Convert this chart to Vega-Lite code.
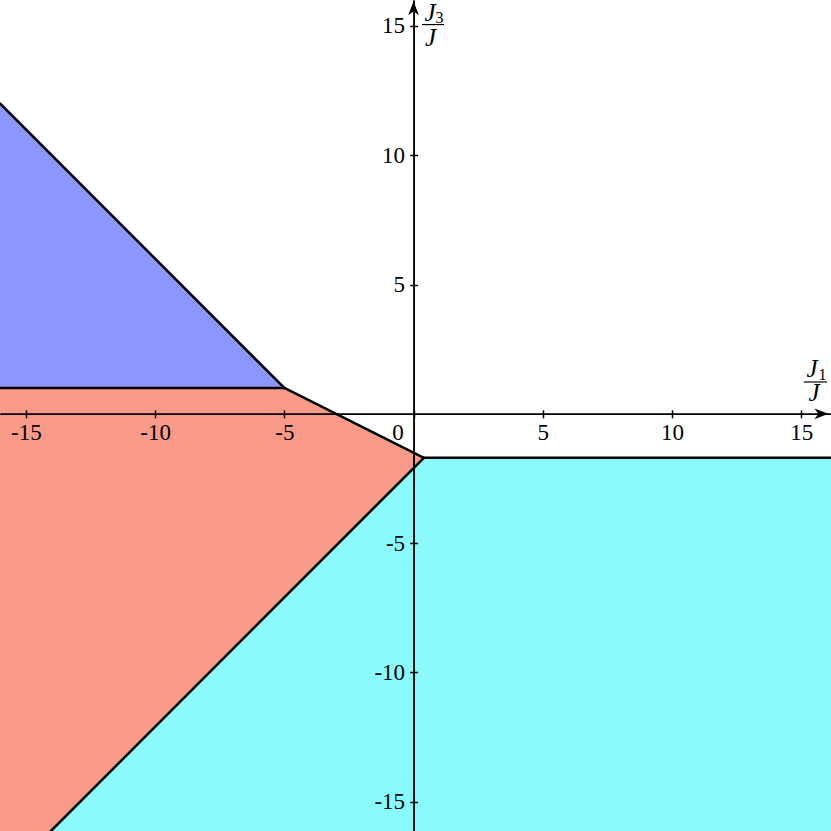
{
  "$schema": "https://vega.github.io/schema/vega-lite/v6.json",
  "width": 831,
  "height": 831,
  "padding": 0,
  "autosize": {"type": "none"},
  "background": "white",
  "config": {"view": {"stroke": null}},
  "datasets": {
    "regions": [
      {"region": "A", "x": -16, "top": 12, "bottom": 1},
      {"region": "A", "x": -5, "top": 1, "bottom": 1},
      {"region": "B", "x": -16, "top": 1, "bottom": -16.13},
      {"region": "B", "x": -14.03, "top": 1, "bottom": -16.13},
      {"region": "B", "x": -5, "top": 1, "bottom": -7.1},
      {"region": "B", "x": 0.4, "top": -1.7, "bottom": -1.7},
      {"region": "C", "x": -14.03, "top": -16.13, "bottom": -16.13},
      {"region": "C", "x": 0.4, "top": -1.7, "bottom": -16.13},
      {"region": "C", "x": 16.15, "top": -1.7, "bottom": -16.13}
    ],
    "edges": [
      {"x": -16, "y": 12, "x2": -5, "y2": 1},
      {"x": -16, "y": 1, "x2": -5, "y2": 1},
      {"x": -5, "y": 1, "x2": 0.4, "y2": -1.7},
      {"x": 0.4, "y": -1.7, "x2": 16.15, "y2": -1.7},
      {"x": 0.4, "y": -1.7, "x2": -14.03, "y2": -16.13}
    ],
    "fracs": [
      {"x": 0.326, "x2": 1.177, "y": 15.05},
      {"x": 15.105, "x2": 15.995, "y": 1.231}
    ],
    "titles": [
      {"role": "main", "x": 0.636, "y": 15.18, "t": "J"},
      {"role": "sub", "x": 1.003, "y": 15.11, "t": "3"},
      {"role": "main", "x": 0.655, "y": 14.24, "t": "J"},
      {"role": "main", "x": 15.414, "y": 1.424, "t": "J"},
      {"role": "sub", "x": 15.82, "y": 1.308, "t": "1"},
      {"role": "main", "x": 15.49, "y": 0.496, "t": "J"}
    ],
    "arrows": [
      {"dir": "up", "x": 0, "y": 15.95},
      {"dir": "right", "x": 16.05, "y": 0}
    ]
  },
  "layer": [
    {
      "data": {"name": "regions"},
      "mark": {"type": "area", "opacity": 1},
      "encoding": {
        "x": {
          "field": "x", "type": "quantitative",
          "scale": {"domain": [-16, 16.15], "nice": false, "zero": false},
          "axis": {
            "orient": "bottom", "offset": -417.2, "title": null, "grid": false,
            "values": [-15, -10, -5, 0, 5, 10, 15],
            "labelExpr": "datum.value + ''",
            "labelOffset": {"condition": {"test": "datum.value === 0", "value": -16}, "value": 0},
            "labelFont": "Liberation Serif", "labelFontSize": 23, "labelColor": "black",
            "labelPadding": 4, "labelOverlap": false, "labelFlush": false, "labelBound": false,
            "tickSize": 4, "tickWidth": 1.5, "tickColor": "black",
            "domainColor": "black", "domainWidth": 1.5, "zindex": 1
          }
        },
        "y": {
          "field": "top", "type": "quantitative", "stack": null,
          "scale": {"domain": [-16.13, 16], "nice": false, "zero": false},
          "axis": {
            "orient": "left", "offset": -413.6, "title": null, "grid": false,
            "values": [-15, -10, -5, 5, 10, 15],
            "labelExpr": "datum.value + ''",
            "labelFont": "Liberation Serif", "labelFontSize": 23, "labelColor": "black",
            "labelPadding": 5, "labelOverlap": false, "labelFlush": false, "labelBound": false,
            "labelBaseline": "middle",
            "tickSize": 4, "tickWidth": 1.5, "tickColor": "black",
            "domainColor": "black", "domainWidth": 1.5, "zindex": 1
          }
        },
        "y2": {"field": "bottom"},
        "color": {
          "field": "region", "type": "nominal",
          "scale": {"domain": ["A", "B", "C"], "range": ["#8C96FC", "#FA9B8A", "#8AFAFC"]},
          "legend": null
        }
      }
    },
    {
      "data": {"name": "edges"},
      "mark": {"type": "rule", "color": "black", "strokeWidth": 2.5, "strokeCap": "round"},
      "encoding": {
        "x": {
          "field": "x", "type": "quantitative",
          "axis": {
            "orient": "top", "offset": -413.8, "title": null, "grid": false, "labels": false,
            "values": [-15, -10, -5, 0, 5, 10, 15],
            "tickSize": 4, "tickWidth": 1.5, "tickColor": "black",
            "domainColor": "black", "domainWidth": 1.5, "zindex": 1
          }
        },
        "y": {
          "field": "y", "type": "quantitative",
          "axis": {
            "orient": "right", "offset": -417.4, "title": null, "grid": false, "labels": false,
            "values": [-15, -10, -5, 5, 10, 15],
            "tickSize": 4, "tickWidth": 1.5, "tickColor": "black",
            "domainColor": "black", "domainWidth": 1.5, "zindex": 1
          }
        },
        "x2": {"field": "x2"},
        "y2": {"field": "y2"}
      }
    },
    {
      "data": {"name": "fracs"},
      "mark": {"type": "rule", "color": "black", "strokeWidth": 1.2},
      "encoding": {
        "x": {"field": "x", "type": "quantitative", "axis": null},
        "x2": {"field": "x2"},
        "y": {"field": "y", "type": "quantitative", "axis": null}
      }
    },
    {
      "data": {"name": "titles"},
      "transform": [{"filter": "datum.role === 'main'"}],
      "mark": {"type": "text", "font": "Liberation Serif", "fontStyle": "italic", "fontSize": 25, "align": "center", "baseline": "alphabetic", "color": "black"},
      "encoding": {
        "x": {"field": "x", "type": "quantitative", "axis": null},
        "y": {"field": "y", "type": "quantitative", "axis": null},
        "text": {"field": "t"}
      }
    },
    {
      "data": {"name": "titles"},
      "transform": [{"filter": "datum.role === 'sub'"}],
      "mark": {"type": "text", "font": "Liberation Serif", "fontSize": 16, "align": "center", "baseline": "alphabetic", "color": "black"},
      "encoding": {
        "x": {"field": "x", "type": "quantitative", "axis": null},
        "y": {"field": "y", "type": "quantitative", "axis": null},
        "text": {"field": "t"}
      }
    },
    {
      "data": {"name": "arrows"},
      "transform": [{"filter": "datum.dir === 'up'"}],
      "mark": {"type": "point", "shape": "M0,0 L0.38,1 L0,0.72 L-0.38,1 Z", "filled": true, "color": "black", "opacity": 1, "size": 784, "strokeWidth": 0},
      "encoding": {
        "x": {"field": "x", "type": "quantitative", "axis": null},
        "y": {"field": "y", "type": "quantitative", "axis": null}
      }
    },
    {
      "data": {"name": "arrows"},
      "transform": [{"filter": "datum.dir === 'right'"}],
      "mark": {"type": "point", "shape": "M0,0 L-1,-0.38 L-0.72,0 L-1,0.38 Z", "filled": true, "color": "black", "opacity": 1, "size": 784, "strokeWidth": 0},
      "encoding": {
        "x": {"field": "x", "type": "quantitative", "axis": null},
        "y": {"field": "y", "type": "quantitative", "axis": null}
      }
    }
  ],
  "resolve": {"axis": {"x": "independent", "y": "independent"}}
}
